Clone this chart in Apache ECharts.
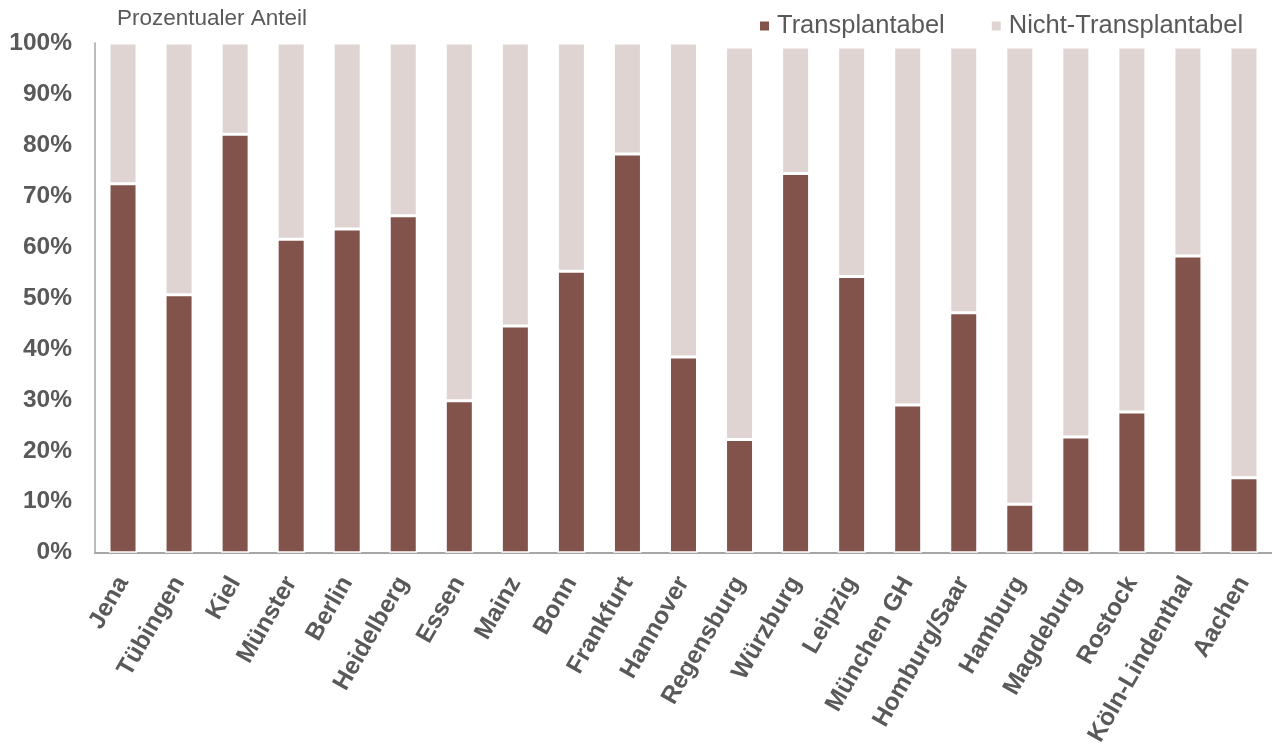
<!DOCTYPE html>
<html>
<head>
<meta charset="utf-8">
<script src="https://cdn.jsdelivr.net/npm/echarts@6/dist/echarts.min.js"></script>
<style>html,body{margin:0;padding:0;background:#fff}#c{width:1272px;height:749px}</style>
</head>
<body>
<div id="c"></div>
<script>
const categories = ['Jena','Tübingen','Kiel','Münster','Berlin','Heidelberg','Essen','Mainz','Bonn','Frankfurt','Hannover','Regensburg','Würzburg','Leipzig','München GH','Homburg/Saar','Hamburg','Magdeburg','Rostock','Köln-Lindenthal','Aachen'];
const transplantabel = [72.4, 50.6, 82.1, 61.5, 63.5, 66.1, 29.8, 44.5, 55.2, 78.2, 38.4, 22.2, 74.4, 54.2, 29.0, 47.1, 9.5, 22.7, 27.6, 58.2, 14.7];
const nichtTransplantabel = [27.6, 49.4, 17.9, 38.5, 36.5, 33.9, 70.2, 55.5, 44.8, 21.8, 61.6, 77.0, 24.8, 45.0, 70.2, 52.1, 89.7, 76.5, 71.6, 41.0, 84.5];
const yTicks = [0,10,20,30,40,50,60,70,80,90,100];

const font = '"Liberation Sans", Arial, sans-serif';
const chart = echarts.init(document.getElementById('c'));
chart.setOption({
  animation: false,
  title: {
    text: 'Prozentualer Anteil',
    left: 112, top: 2,
    textStyle: {fontFamily: font, fontSize: 22.5, fontWeight: 'normal', color: '#595959'}
  },
  legend: {
    left: 753, top: 8,
    itemWidth: 11, itemHeight: 11, itemGap: 45,
    icon: 'rect',
    textStyle: {fontFamily: font, fontSize: 25.5, color: '#595959', padding: [0,0,0,2]},
    data: ['Transplantabel','Nicht-Transplantabel']
  },
  grid: {left: 95, right: -14, top: 43, bottom: 196, containLabel: false},
  xAxis: {
    type: 'category',
    data: categories,
    axisLine: {show: true, lineStyle: {color: '#A6A6A6', width: 2}},
    axisTick: {show: false},
    axisLabel: {interval: 0, rotate: 60, margin: 26, fontFamily: font, fontSize: 24.5, fontWeight: 'bold', color: '#595959'}
  },
  yAxis: {
    type: 'value',
    min: 0, max: 100, interval: 10,
    axisLine: {show: true, lineStyle: {color: '#A6A6A6', width: 1.5}},
    axisTick: {show: false},
    splitLine: {show: false},
    axisLabel: {margin: 23, fontFamily: font, fontSize: 24.5, fontWeight: 'bold', color: '#595959',
      formatter: v => yTicks.includes(v) ? v + '%' : ''}
  },
  series: [
    {name: 'Transplantabel', type: 'bar', stack: 'a', data: transplantabel, barWidth: 28,
     itemStyle: {color: '#81534A', borderColor: '#fff', borderWidth: 1.5}},
    {name: 'Nicht-Transplantabel', type: 'bar', stack: 'a', data: nichtTransplantabel, barWidth: 28,
     itemStyle: {color: '#E0D4D3', borderColor: '#fff', borderWidth: 1.5}}
  ]
});
</script>
</body>
</html>
